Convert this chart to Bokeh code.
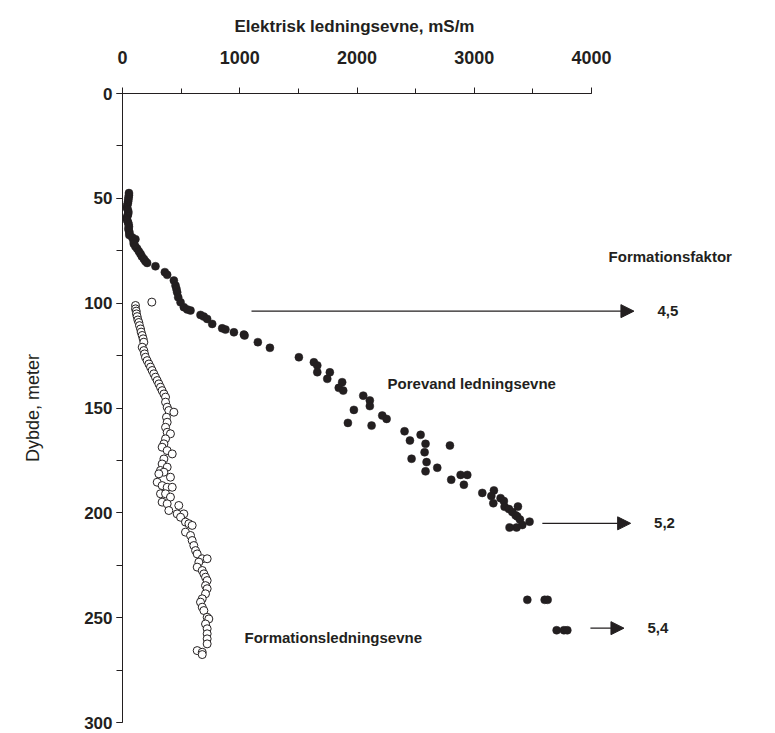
from bokeh.plotting import figure
from bokeh.models import (Range1d, SingleIntervalTicker, Label, Arrow, NormalHead,
                          ColumnDataSource, Title)
from bokeh.embed import file_html
from bokeh.resources import INLINE

# Pore water conductivity (mS/m) against depth (m)
pore_depth = [47.5, 48.5, 49.5, 50.5, 51.5, 52.5, 53.5, 54.5, 55.5, 56.5, 57.5, 58.5,
              59.5, 60.5, 61.5, 62.5, 63.5, 64.5, 65.5, 66.5, 67.5,
              68.7, 69.5, 70.5, 71.7, 73.0, 74.0, 75.3, 76.5, 77.7, 78.9, 80.0, 80.8,
              82.4, 85.2, 86.5, 89.2, 91.6, 93.2, 94.8, 97.2, 99.6, 101.9, 103.0, 103.5,
              105.6, 106.4, 107.5, 109.9, 112.0, 112.6, 113.9, 115.0, 115.4, 118.6,
              121.3, 125.8, 128.2, 129.7, 132.9, 133.0, 136.1, 137.7, 140.4, 141.7,
              144.1, 146.4, 149.1, 150.9, 153.6, 155.2, 157.1, 158.4, 161.1, 162.8,
              165.5, 167.1, 167.9, 171.1, 174.2, 175.8, 178.5, 180.2, 181.9, 181.9,
              184.2, 186.6, 189.3, 190.5, 192.0, 193.0, 194.4, 195.4, 197.0, 197.1,
              198.2, 199.6, 201.2, 201.7, 203.2, 204.2, 205.8, 207.0, 207.0,
              241.5, 241.5, 241.5, 256.0, 256.0, 256.0]
pore_cond = [55, 55, 52, 50, 48, 45, 40, 38, 45, 50, 48, 42,
             35, 40, 48, 52, 55, 50, 55, 60, 58,
             83, 110, 95, 96, 110, 125, 140, 154, 165, 182, 195, 210,
             281, 361, 381, 438, 452, 460, 466, 475, 495, 523, 552, 580,
             665, 693, 722, 765, 850, 878, 950, 1035, 1041, 1154,
             1257, 1504, 1632, 1661, 1661, 1768, 1746, 1873, 1844, 1882,
             2053, 2109, 2109, 1973, 2215, 2252, 1922, 2124, 2405, 2542,
             2451, 2584, 2792, 2576, 2465, 2593, 2684, 2584, 2883, 2940,
             2803, 2911, 3167, 3068, 3145, 3224, 3252, 3162, 3372, 3258,
             3295, 3324, 3352, 3366, 3389, 3471, 3409, 3360, 3301,
             3452, 3600, 3625, 3702, 3764, 3793]

# Formation conductivity (mS/m) against depth (m)
form_depth = [99.5, 101.1, 102.7, 103.8, 105.1, 106.4, 108.0, 109.2, 110.7, 112.3,
              113.8, 115.4, 117.0, 118.6, 121.0, 122.6, 124.2, 125.8, 127.4, 129.0,
              130.5, 132.1, 133.7, 135.3, 136.9, 138.5, 140.1, 141.7, 143.3, 144.8,
              147.2, 149.6, 151.2, 152.0, 154.4, 156.8, 159.2, 161.6, 162.3, 164.7,
              167.1, 168.7, 170.3, 171.9, 174.3, 176.7, 178.2, 179.8, 180.6, 181.4,
              183.0, 185.4, 187.0, 187.8, 187.8, 190.9, 190.9, 192.5, 194.9, 195.7,
              196.5, 198.9, 200.5, 200.5, 202.1, 204.4, 205.2, 206.0, 209.2, 210.8,
              213.2, 215.6, 218.0, 219.6, 221.9, 221.9, 223.5, 225.9, 227.5, 229.1,
              230.7, 232.3, 234.7, 236.2, 238.6, 241.0, 242.6, 245.0, 246.6, 249.8,
              250.6, 253.0, 255.3, 257.7, 260.1, 262.5, 265.7, 266.5, 267.6]
form_cond = [250, 111, 111, 117, 119, 125, 131, 139, 145, 154,
             159, 168, 176, 182, 168, 182, 188, 196, 210, 225,
             239, 253, 267, 281, 296, 310, 324, 338, 353, 367,
             367, 381, 395, 438, 375, 381, 367, 381, 409, 367,
             353, 338, 381, 424, 353, 338, 381, 324, 353, 310,
             409, 296, 338, 381, 424, 324, 367, 409, 338, 381,
             480, 395, 466, 523, 495, 537, 566, 594, 537, 580,
             594, 608, 623, 637, 680, 722, 651, 637, 680, 694,
             708, 722, 708, 722, 708, 680, 665, 680, 694, 722,
             736, 708, 722, 722, 722, 722, 637, 680, 680]

# Formation factor annotations
factor_text = ["4,5", "5,2", "5,4"]
factor_depth = [103.8, 205.0, 255.0]
arrow_from = [1100, 3580, 3990]
arrow_to = [4361, 4333, 4276]

INK = "#231f20"
FONT = "Liberation Sans"

p = figure(width=775, height=733,
           x_range=Range1d(0, 5500), y_range=Range1d(300, 0),
           x_axis_location="above",
           output_backend="svg", toolbar_location=None,
           min_border_left=122, min_border_right=8,
           min_border_top=93, min_border_bottom=11)
p.outline_line_color = None
p.xgrid.visible = False
p.ygrid.visible = False
p.background_fill_color = "white"
p.border_fill_color = "white"

xa = p.xaxis[0]
xa.bounds = (0, 4000)
xa.ticker = SingleIntervalTicker(interval=1000, num_minor_ticks=2)
xa.axis_line_color = INK
xa.major_tick_line_color = INK
xa.minor_tick_line_color = INK
xa.major_tick_in = 0
xa.major_tick_out = 6
xa.minor_tick_in = 0
xa.minor_tick_out = 5
xa.major_label_text_font = FONT
xa.major_label_text_font_style = "bold"
xa.major_label_text_font_size = "18px"
xa.major_label_text_color = INK
xa.major_label_standoff = 24

ya = p.yaxis[0]
ya.bounds = (0, 300)
ya.ticker = SingleIntervalTicker(interval=50, num_minor_ticks=2)
ya.axis_line_color = INK
ya.major_tick_line_color = INK
ya.minor_tick_line_color = INK
ya.major_tick_in = 0
ya.major_tick_out = 6
ya.minor_tick_in = 0
ya.minor_tick_out = 6
ya.major_label_text_font = FONT
ya.major_label_text_font_style = "bold"
ya.major_label_text_font_size = "17px"
ya.major_label_text_color = INK
ya.major_label_standoff = 4
ya.axis_label = "Dybde, meter"
ya.axis_label_text_font = FONT
ya.axis_label_text_font_style = "normal"
ya.axis_label_text_font_size = "18px"
ya.axis_label_text_color = INK
ya.axis_label_standoff = 38

# x-axis title, placed over the 0-4000 scale
p.add_layout(Title(text="Elektrisk ledningsevne, mS/m", align="left", offset=112,
                   text_font=FONT, text_font_style="bold", text_font_size="17px",
                   text_color=INK, standoff=24), "above")

pore = ColumnDataSource(dict(x=pore_cond, y=pore_depth))
form = ColumnDataSource(dict(x=form_cond, y=form_depth))

p.scatter("x", "y", source=form, marker="circle", size=8,
          fill_color="white", line_color=INK, line_width=1)
p.scatter("x", "y", source=pore, marker="circle", size=8,
          fill_color=INK, line_color=INK, line_width=0.5)

for t, d, x0, x1 in zip(factor_text, factor_depth, arrow_from, arrow_to):
    p.add_layout(Arrow(x_start=x0, y_start=d, x_end=x1, y_end=d,
                       line_color=INK, line_width=1.2,
                       end=NormalHead(size=13, fill_color=INK, line_color=INK)))
    p.add_layout(Label(x=x1 + 200, y=d, text=t, text_font=FONT,
                       text_font_style="bold", text_font_size="15px",
                       text_color=INK, text_baseline="middle"))

for txt, x, y in [("Formationsfaktor", 4145, 77.8),
                  ("Porevand ledningsevne", 2260, 138.3),
                  ("Formationsledningsevne", 1040, 259.5)]:
    p.add_layout(Label(x=x, y=y, text=txt, text_font=FONT, text_font_style="bold",
                       text_font_size="15px", text_color=INK,
                       text_baseline="middle"))

open("out.html", "w").write(file_html(p, INLINE))
